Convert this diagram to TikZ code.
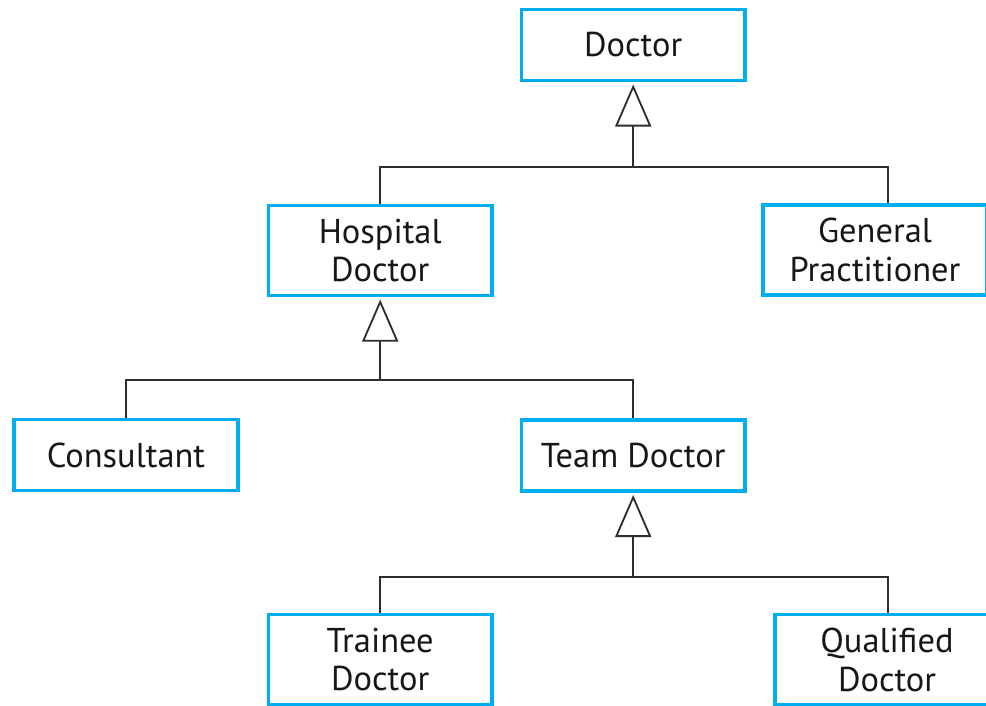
\documentclass[tikz,border=0pt]{standalone}
\usepackage{fontspec}
\setmainfont{PT Sans}
\usetikzlibrary{arrows.meta}
\definecolor{boxblue}{RGB}{0,174,239}
\definecolor{linegray}{RGB}{45,45,45}
\definecolor{textgray}{RGB}{25,22,23}
\tikzset{
  class/.style={draw=boxblue,line width=2.4pt,fill=white,align=center,text=textgray,
    minimum width=5.59cm,minimum height=1.77cm,inner sep=0pt,
    font=\fontsize{24.5}{27.7}\selectfont},
  tall/.style={minimum height=2.25cm},
  link/.style={line width=1.3pt,draw=linegray},
  gen/.style={link,-{Triangle[open,length=1.05cm,width=0.9cm]},shorten >=0.06cm}
}

\begin{document}
\begin{tikzpicture}[x=0.025cm,y=0.025cm]
  \useasboundingbox (0,0) rectangle (986,705);
  \clip (0,0) rectangle (986,705);

  % Classes
  \node[class] (Doctor) at (633.2,660) {Doctor};
  \node[class,tall] (Hospital) at (380.2,454.5) {Hospital\\Doctor};
  \node[class,tall] (GP) at (875,455) {General\\Practitioner};
  \node[class] (Consultant) at (126,250) {Consultant};
  \node[class] (Team) at (633.2,249.5) {Team Doctor};
  \node[class,tall] (Trainee) at (380.2,45.5) {Trainee\\Doctor};
  \node[class,tall] (Qualified) at (887,45.5) {Qualified\\Doctor};

  % Junctions
  \coordinate (JDoctor) at (633.2,538);
  \coordinate (JHospital) at (380.2,325);
  \coordinate (JTeam) at (633.2,128);

  % Doctor
  \draw[link] (Hospital.north) |- (JDoctor);
  \draw[link] ([xshift=0.325cm]GP.north) |- (JDoctor);
  \draw[gen] (JDoctor) -- (Doctor.south);

  % Hospital doctor
  \draw[link] (Consultant.north) |- (JHospital);
  \draw[link] (Team.north) |- (JHospital);
  \draw[gen] (JHospital) -- (Hospital.south);

  % Team doctor
  \draw[link] (Trainee.north) |- (JTeam);
  \draw[link] ([xshift=0.025cm]Qualified.north) |- (JTeam);
  \draw[gen] (JTeam) -- (Team.south);
\end{tikzpicture}
\end{document}
